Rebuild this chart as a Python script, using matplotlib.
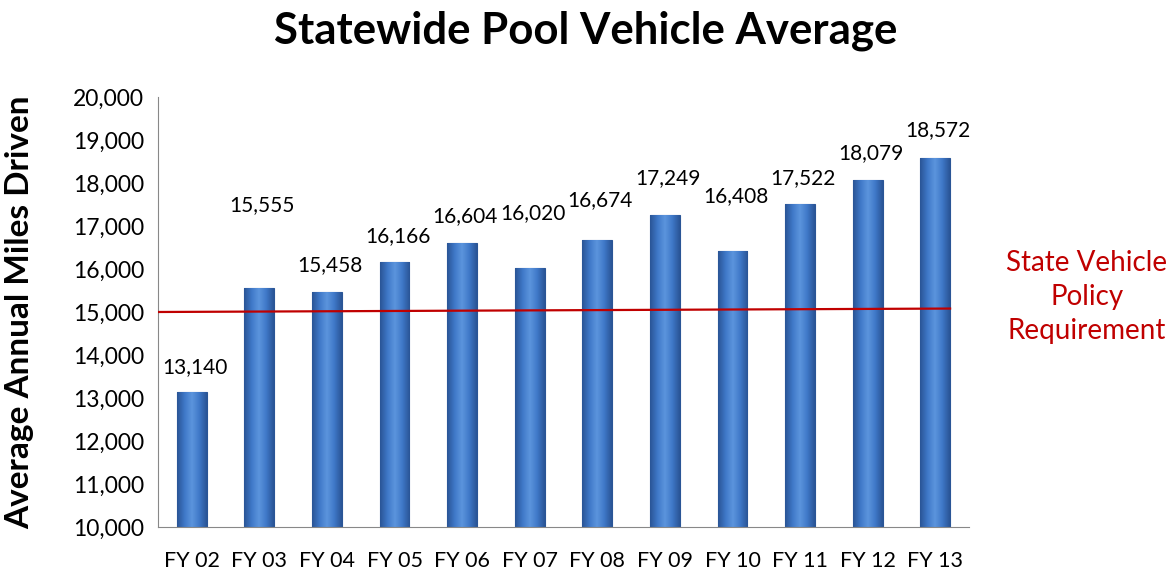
import matplotlib.pyplot as plt
import numpy as np
from matplotlib.colors import LinearSegmentedColormap

years = ["FY 02", "FY 03", "FY 04", "FY 05", "FY 06", "FY 07",
         "FY 08", "FY 09", "FY 10", "FY 11", "FY 12", "FY 13"]
miles = [13140, 15555, 15458, 16166, 16604, 16020,
         16674, 17249, 16408, 17522, 18079, 18572]
policy_requirement = 15000

# label offsets above bar tops (pixels), as placed in the original
label_offsets = [25, 83, 27, 26, 27, 55, 40, 37, 55, 25, 27, 28]

plt.rcParams['font.family'] = ['Lato', 'DejaVu Sans']

fig = plt.figure(figsize=(11.72, 5.71), dpi=100)
ax = fig.add_axes([0.1348, 0.0771, 0.692, 0.753])

x = np.arange(len(years))
bars = ax.bar(x, miles, width=0.44, bottom=0, color="#3d72c2",
              edgecolor="#2a5596", linewidth=0.8, zorder=2)

# horizontal shading: dark edges, light middle
cmap = LinearSegmentedColormap.from_list(
    "barshade", ["#2a5596", "#3f78c8", "#5c95dd", "#3f78c8", "#2a5596"])
grad = np.linspace(0, 1, 64).reshape(1, -1)
for b in bars:
    x0, w, h = b.get_x(), b.get_width(), b.get_height()
    im = ax.imshow(grad, extent=[x0, x0 + w, 10000, h], cmap=cmap,
                   aspect="auto", zorder=2.5)
    im.set_clip_path(b)

for i, (b, v) in enumerate(zip(bars, miles)):
    ax.annotate(f"{v:,}", (b.get_x() + b.get_width() / 2, v),
                xytext=(3, label_offsets[i]), textcoords="offset pixels",
                ha="center", va="center", fontsize=15, color="black")

ax.plot([-0.5, 11.22], [policy_requirement, policy_requirement + 80],
        color="#c00000", linewidth=1.6, zorder=3)

ax.set_xlim(-0.5, 11.5)
ax.set_ylim(10000, 20000)
ax.set_yticks(np.arange(10000, 20001, 1000))
ax.set_yticklabels([f"{t:,}" for t in range(10000, 20001, 1000)], fontsize=16.5)
ax.set_xticks(x)
ax.set_xticklabels(years, fontsize=15.5)
ax.tick_params(axis="both", length=0)
ax.tick_params(axis="x", pad=17)
ax.tick_params(axis="y", pad=10)

for s in ["top", "right"]:
    ax.spines[s].set_visible(False)
for s in ["left", "bottom"]:
    ax.spines[s].set_color("#888888")

ax.set_ylabel("Average Annual Miles Driven", fontsize=24, fontweight="bold")
ax.yaxis.set_label_coords(-0.153, 0.5)
fig.text(0.5, 0.946, "Statewide Pool Vehicle Average", ha="center",
         va="center", fontsize=31.5, fontweight="bold")
fig.text(0.9275, 0.48, "State Vehicle\nPolicy\nRequirement", ha="center",
         va="center", fontsize=20, color="#c00000", linespacing=1.4)

fig.savefig("out.png", dpi=100)
